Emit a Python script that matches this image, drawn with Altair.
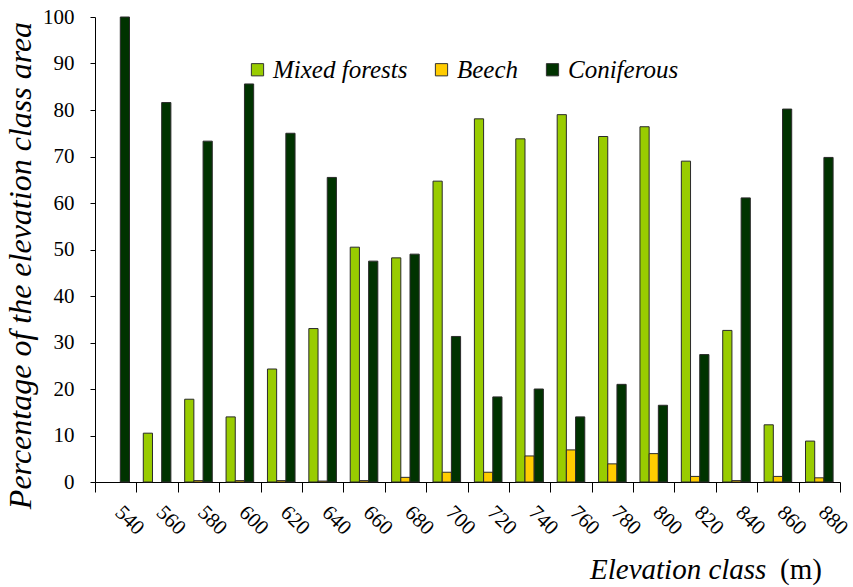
import altair as alt
import pandas as pd

# Elevation classes (m) and share of each forest type (% of class area)
elevation = ["540", "560", "580", "600", "620", "640", "660", "680", "700",
             "720", "740", "760", "780", "800", "820", "840", "860", "880"]
mixed = [0, 10.5, 17.8, 14.0, 24.3, 33.0, 50.5, 48.2, 64.7,
         78.1, 73.8, 79.0, 74.3, 76.4, 69.0, 32.6, 12.3, 8.8]
beech = [0, 0, 0.3, 0.3, 0.3, 0.2, 0.3, 1.0, 2.1,
         2.1, 5.6, 6.9, 3.9, 6.1, 1.2, 0.3, 1.2, 0.9]
coniferous = [100, 81.6, 73.3, 85.6, 75.0, 65.5, 47.5, 49.0, 31.3,
              18.3, 20.0, 14.0, 21.0, 16.5, 27.4, 61.1, 80.2, 69.8]

series = ["Mixed forests", "Beech", "Coniferous"]
colors = ["#99CC00", "#FFCC00", "#003300"]

rows = []
for name, vals in zip(series, [mixed, beech, coniferous]):
    for e, v in zip(elevation, vals):
        rows.append({"elevation": e, "series": name, "value": v})
df = pd.DataFrame(rows)

FONT = "Liberation Serif"

bars = alt.Chart(df).transform_filter("datum.value > 0").mark_bar(
    stroke="#2a2a2a", strokeWidth=1
).encode(
    x=alt.X("elevation:N", sort=elevation,
            scale=alt.Scale(paddingInner=0, paddingOuter=0),
            axis=alt.Axis(title=None, labelAngle=45, labelAlign="left",
                          labelBaseline="middle", labelPadding=17,
                          labelFont=FONT, labelFontSize=21, labelColor="#000",
                          tickBand="extent", tickSize=10, tickColor="#000",
                          domainColor="#000", labelOffset=2)),
    xOffset=alt.XOffset("series:N", sort=series,
                        scale=alt.Scale(domain=series, paddingInner=0, paddingOuter=0.75)),
    y=alt.Y("value:Q",
            scale=alt.Scale(domain=[0, 100], nice=False),
            axis=alt.Axis(title="Percentage of the elevation class area",
                          values=list(range(0, 101, 10)), grid=False,
                          tickSize=5, tickColor="#000", domainColor="#000",
                          labelFont=FONT, labelFontSize=21, labelColor="#000",
                          labelPadding=16,
                          titleFont=FONT, titleFontSize=32, titleFontStyle="italic",
                          titleFontWeight="normal", titleColor="#000",
                          titleX=-75, titleY=248, titleAngle=-90,
                          titleBaseline="middle", titleAlign="center")),
    color=alt.Color("series:N", sort=series,
                    scale=alt.Scale(domain=series, range=colors),
                    legend=alt.Legend(title=None, orient="none", direction="horizontal",
                                      legendX=150, legendY=40, padding=0,
                                      symbolType="square", symbolSize=150,
                                      symbolStrokeColor="#333", symbolStrokeWidth=1,
                                      symbolOpacity=1,
                                      labelFont=FONT, labelFontSize=25,
                                      labelFontStyle="italic", labelColor="#000",
                                      labelOffset=3, columnPadding=21)),
)

# X-axis title: italic name followed by upright unit
title_name = alt.Chart(pd.DataFrame({"t": ["Elevation class"]})).mark_text(
    font=FONT, fontSize=29, fontStyle="italic", align="left", baseline="alphabetic",
    color="#000"
).encode(x=alt.value(495), y=alt.value(562), text="t:N")

title_unit = alt.Chart(pd.DataFrame({"t": ["(m)"]})).mark_text(
    font=FONT, fontSize=29, align="left", baseline="alphabetic", color="#000"
).encode(x=alt.value(685), y=alt.value(562), text="t:N")

chart = alt.layer(bars, title_name, title_unit).properties(
    width=745, height=465,
    padding={"left": 95, "top": 17, "right": 13, "bottom": 105},
    autosize="none",
    background="white",
).configure_view(stroke=None)

chart.save("out.html", embed_options={"renderer": "svg", "actions": False})
